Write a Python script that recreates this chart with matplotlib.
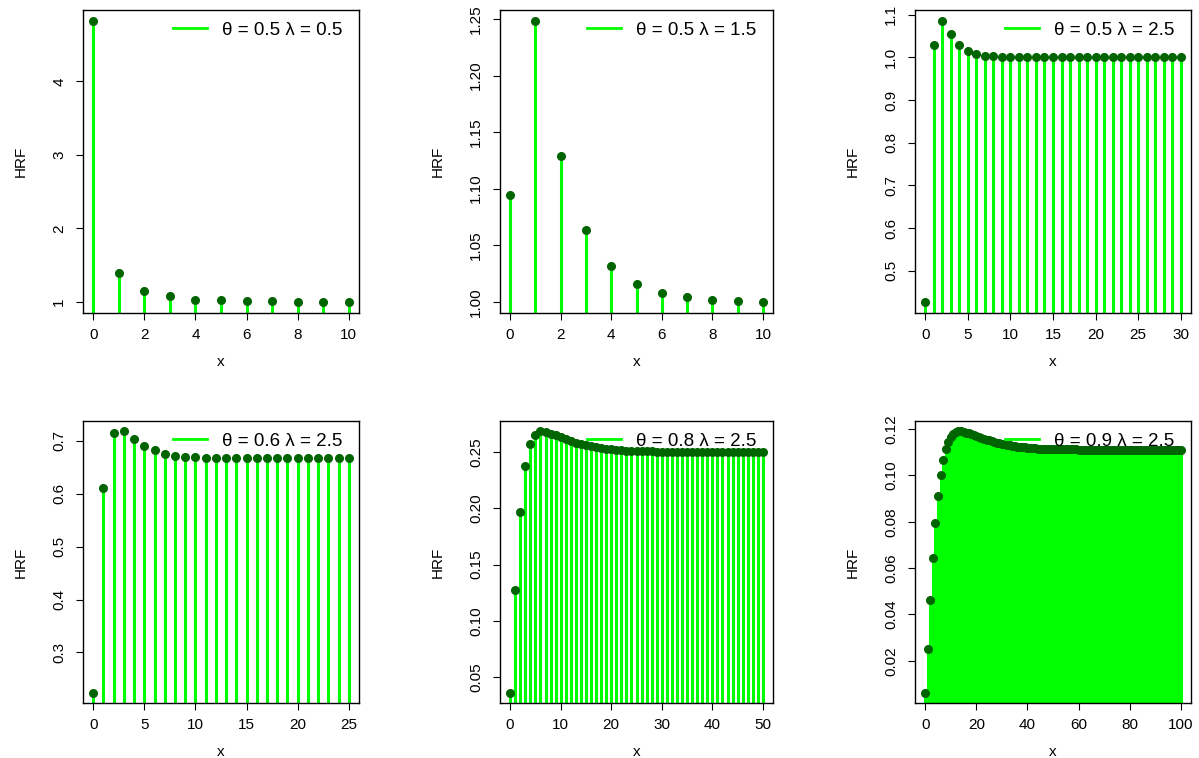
import matplotlib
matplotlib.use('Agg')
import matplotlib.pyplot as plt
from matplotlib.ticker import FormatStrFormatter

plt.rcParams['font.family'] = ['Liberation Sans', 'DejaVu Sans']

# HRF values, one list per panel
x1 = list(range(0, 11))
hrf1 = [4.82, 1.39, 1.15, 1.073, 1.03, 1.018, 1.012, 1.005, 1.003, 1.001, 1.0]

x2 = list(range(0, 11))
hrf2 = [1.094, 1.248, 1.129, 1.0636, 1.0315, 1.016, 1.008, 1.004, 1.002, 1.001, 1.0]

x3 = list(range(0, 31))
hrf3 = [0.427, 1.029, 1.085, 1.055, 1.029, 1.016, 1.009, 1.004, 1.003, 1.001,
        1.0, 1.0, 1.0, 1.0, 1.0, 1.0, 1.0, 1.0, 1.0, 1.0,
        1.0, 1.0, 1.0, 1.0, 1.0, 1.0, 1.0, 1.0, 1.0, 1.0, 1.0]

x4 = list(range(0, 26))
hrf4 = [0.224, 0.611, 0.716, 0.718, 0.703, 0.691, 0.682, 0.675, 0.672, 0.670,
        0.669, 0.668, 0.668, 0.668, 0.668, 0.668, 0.668, 0.668, 0.667, 0.667,
        0.667, 0.667, 0.667, 0.667, 0.667, 0.667]

x5 = list(range(0, 51))
hrf5 = [0.0365, 0.1275, 0.197, 0.237, 0.257, 0.265, 0.268, 0.2675, 0.266, 0.2645,
        0.263, 0.261, 0.2595, 0.258, 0.257, 0.2558, 0.2548, 0.254, 0.2533, 0.2527,
        0.2522, 0.2518, 0.2514, 0.2511, 0.2509, 0.2507, 0.2505, 0.2504, 0.2503, 0.2502,
        0.2502, 0.2501, 0.2501, 0.2501, 0.2501, 0.25, 0.25, 0.25, 0.25, 0.25,
        0.25, 0.25, 0.25, 0.25, 0.25, 0.25, 0.25, 0.25, 0.25, 0.25, 0.25]

x6 = list(range(0, 101))
hrf6 = [0.0063, 0.0253, 0.0462, 0.0642, 0.0794, 0.0912, 0.1001, 0.1068, 0.1113, 0.1143,
        0.1166, 0.1179, 0.1187, 0.1190, 0.1190, 0.1188, 0.1185, 0.1182, 0.1178, 0.1174,
        0.1170, 0.1166, 0.1162, 0.1158, 0.1154, 0.1151, 0.1147, 0.1144, 0.1141, 0.1139,
        0.1136, 0.1134, 0.1132, 0.1130, 0.1128, 0.1126, 0.1125, 0.1123, 0.1122, 0.1121,
        0.1120, 0.1119, 0.1118, 0.1117, 0.1116, 0.1116, 0.1115, 0.1115, 0.1114, 0.1114,
        0.1113, 0.1113, 0.1113, 0.1113, 0.1113, 0.1113, 0.1113, 0.1113, 0.1113, 0.1113,
        0.1112, 0.1112, 0.1112, 0.1112, 0.1112, 0.1112, 0.1112, 0.1112, 0.1112, 0.1112,
        0.1111, 0.1111, 0.1111, 0.1111, 0.1111, 0.1111, 0.1111, 0.1111, 0.1111, 0.1111,
        0.1111, 0.1111, 0.1111, 0.1111, 0.1111, 0.1111, 0.1111, 0.1111, 0.1111, 0.1111,
        0.1111, 0.1111, 0.1111, 0.1111, 0.1111, 0.1111, 0.1111, 0.1111, 0.1111, 0.1111,
        0.1111]

labels = ['θ = 0.5 λ = 0.5', 'θ = 0.5 λ = 1.5', 'θ = 0.5 λ = 2.5',
          'θ = 0.6 λ = 2.5', 'θ = 0.8 λ = 2.5', 'θ = 0.9 λ = 2.5']

xticks = [[0, 2, 4, 6, 8, 10], [0, 2, 4, 6, 8, 10], [0, 5, 10, 15, 20, 25, 30],
          [0, 5, 10, 15, 20, 25], [0, 10, 20, 30, 40, 50], [0, 20, 40, 60, 80, 100]]
yticks = [[1, 2, 3, 4], [1.00, 1.05, 1.10, 1.15, 1.20, 1.25],
          [0.5, 0.6, 0.7, 0.8, 0.9, 1.0, 1.1], [0.3, 0.4, 0.5, 0.6, 0.7],
          [0.05, 0.10, 0.15, 0.20, 0.25], [0.02, 0.04, 0.06, 0.08, 0.10, 0.12]]
yfmt = ['%d', '%.2f', '%.1f', '%.1f', '%.2f', '%.2f']

W, H = 1199, 758
# axes boxes in pixels: left, top, right, bottom
boxes = [(83, 10, 359, 313), (500, 10, 773, 313), (915, 10, 1191, 313),
         (83, 421, 359, 703), (500, 421, 773, 703), (915, 421, 1191, 703)]

xs = [x1, x2, x3, x4, x5, x6]
ys = [hrf1, hrf2, hrf3, hrf4, hrf5, hrf6]

fig = plt.figure(figsize=(W / 100, H / 100), dpi=100)

for i in range(6):
    l, t, r, b = boxes[i]
    ax = fig.add_axes([l / W, 1 - b / H, (r - l) / W, (b - t) / H])
    x, y = xs[i], ys[i]
    # R style 4% padding
    xr = max(x) - min(x)
    yr = max(y) - min(y)
    ax.set_xlim(min(x) - 0.04 * xr, max(x) + 0.04 * xr)
    ax.set_ylim(min(y) - 0.04 * yr, max(y) + 0.04 * yr)
    ax.vlines(x, min(y) - yr, y, color='#00ff00', lw=2.2, zorder=2)
    ax.plot(x, y, 'o', color='#006400', ms=5.5, mec='#006400', zorder=3,
            clip_on=False)
    ax.plot([], [], color='#00ff00', lw=2, label=labels[i])
    ax.legend(loc='upper right', bbox_to_anchor=(1 - 6 / (r - l), 0.995),
              frameon=False, fontsize=13.5, handlelength=1.85,
              handletextpad=0.8, borderaxespad=0.2, borderpad=0.35)
    ax.set_xticks(xticks[i])
    ax.set_yticks(yticks[i])
    ax.yaxis.set_major_formatter(FormatStrFormatter(yfmt[i]))
    ax.tick_params(axis='y', labelrotation=90, length=5, pad=7, labelsize=11)
    ax.tick_params(axis='x', length=5, pad=6, labelsize=11)
    for lab in ax.get_yticklabels():
        lab.set_verticalalignment('center')
    for s in ax.spines.values():
        s.set_linewidth(1.0)
    ax.set_xlabel('x', fontsize=11, labelpad=9)
    ax.set_ylabel('HRF', fontsize=11, labelpad=18)

fig.savefig('out.png', dpi=100)
